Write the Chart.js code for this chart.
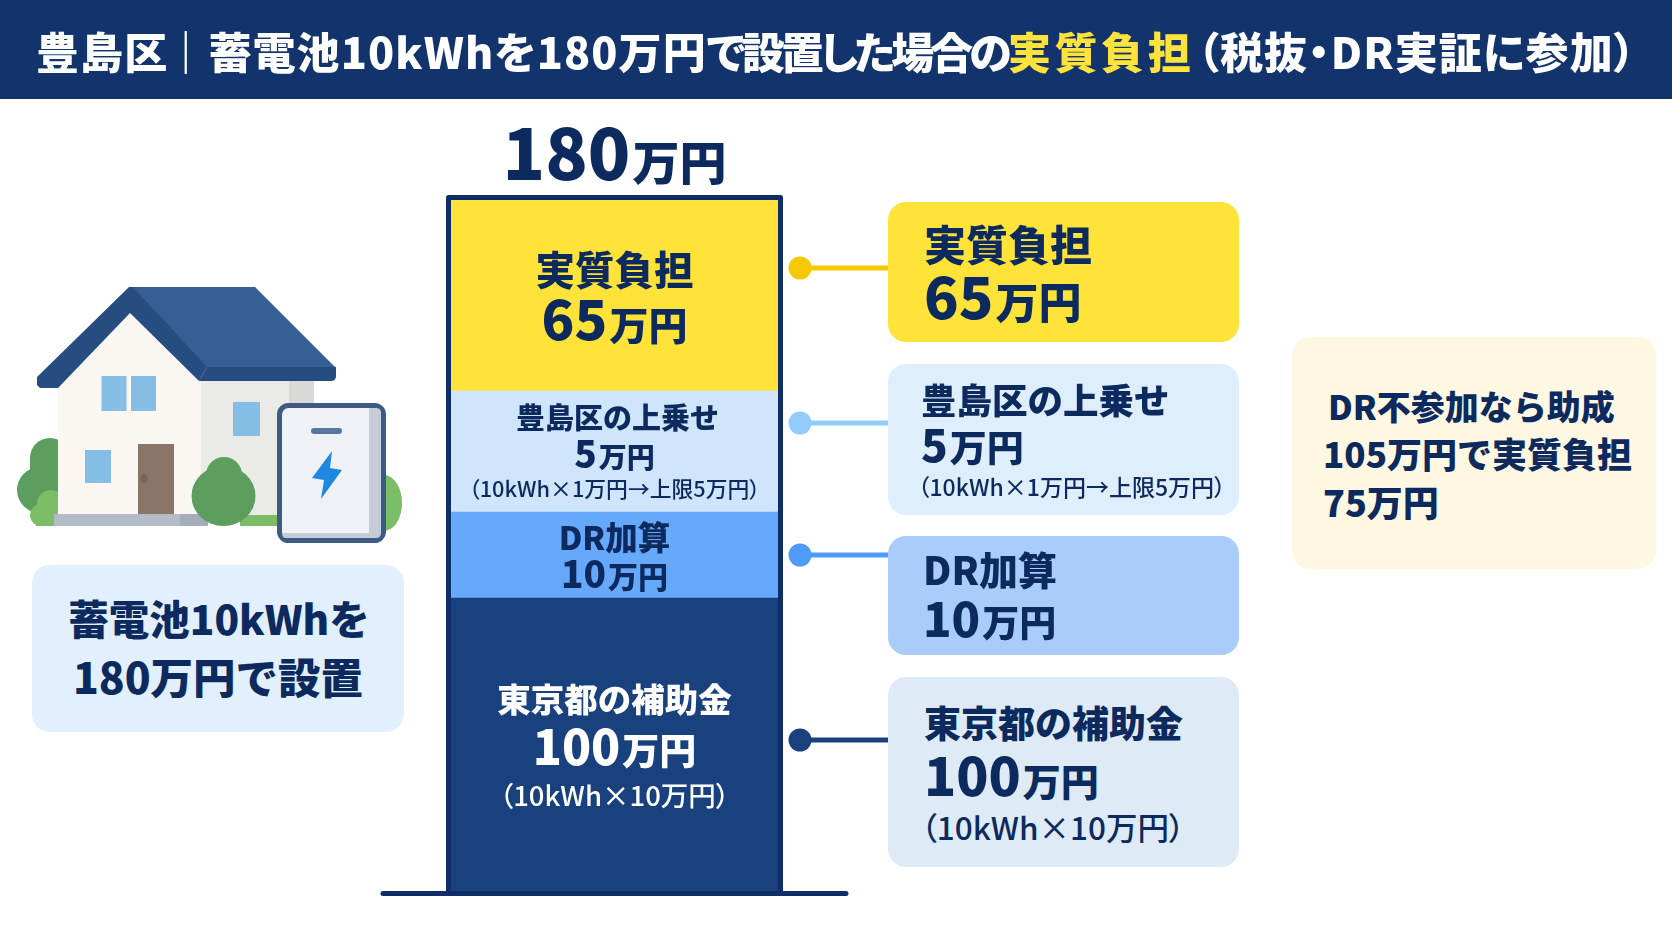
<!DOCTYPE html>
<html lang="ja">
<head>
<meta charset="utf-8">
<title>豊島区 蓄電池 実質負担</title>
<script src="https://cdn.jsdelivr.net/npm/chart.js@4"></script>
<style>
  html, body { margin: 0; padding: 0; background: #fff; }
  body { width: 1672px; height: 941px; position: relative; overflow: hidden;
         font-family: "Noto Sans CJK JP", "Noto Sans", sans-serif; font-weight: 900; color: #0d2a5e; }
  #myChart, #art { position: absolute; left: 0; top: 0; }
  #header { position: absolute; left: 0; top: 0; width: 1672px; height: 99px; background: #12336b; }
  .card { position: absolute; border-radius: 18px; }
  .t { position: absolute; white-space: nowrap; line-height: 1; transform: translateY(-50%); }
  .c { transform: translate(-50%, -50%); }
  .note { font-weight: 500; font-feature-settings: "palt"; }
  #title { left: 36px; top: 50px; font-size: 43px; color: #fff; font-feature-settings: "palt"; letter-spacing: 1.1px; }
  #title b { color: #ffe33b; font-weight: 900; letter-spacing: 3.6px; margin-right: 3px; }
  #title i { font-style: normal; letter-spacing: -3.9px; }
</style>
</head>
<body>
<div id="header"></div>
<svg id="art" width="1672" height="941" viewBox="0 0 1672 941"></svg>
<canvas id="myChart" width="1672" height="941"></canvas>
<div class="t" id="title">豊島区<span style="margin-left:-4px">｜</span>蓄電池10kWhを180万円<i>で設置した場合の</i><b>実質負担</b>（税抜・DR実証に参加）</div>
<script>
// stacked from the bottom, man-yen
const categories = ["東京都の補助金", "DR加算", "豊島区の上乗せ", "実質負担"]
const values = [100, 10, 5, 65]
const notes = ["（10kWh×10万円）", "", "（10kWh×1万円→上限5万円）", ""]
const total = 180
const unit = "万円"

// the reference does not draw the segments to proportion, so the axis
// keeps the real yen values and gives each one the height it has in the picture
const segmentHeights = [293, 86, 121, 191]

const barColors = ["#18417e", "#66a9fa", "#cfe5fc", "#ffe338"]
const dotColors = ["#18417e", "#4e9bfa", "#93cbfe", "#f5c800"]
const dotY = [740, 555, 423, 268]
const cardColors = ["#dfeaf7", "#a9ccfb", "#dfeefd", "#ffe338"]
const cardBoxes = [[677, 190], [536, 119], [364, 151], [202, 140]]

class SegmentedScale extends Chart.LinearScale {
    getPixelForValue(value) {
        const sum = segmentHeights.reduce((a, b) => a + b, 0)
        let from = 0, acc = 0
        for (let i = 0; i < values.length; i++) {
            if (value <= from + values[i]) {
                acc += segmentHeights[i] * (value - from) / values[i]
                break
            }
            acc += segmentHeights[i]
            from += values[i]
        }
        return this.bottom - acc / sum * (this.bottom - this.top)
    }
}
SegmentedScale.id = 'segmented'
SegmentedScale.defaults = Chart.LinearScale.defaults
Chart.register(SegmentedScale)

const barFrame = {
    id: 'barFrame',
    afterDatasetsDraw(chart) {
        const { ctx, chartArea: a } = chart
        ctx.save()
        ctx.strokeStyle = '#0f2d66'
        ctx.lineWidth = 5
        ctx.lineJoin = 'round'
        ctx.beginPath()
        ctx.moveTo(a.left - 2.5, a.bottom)
        ctx.lineTo(a.left - 2.5, a.top - 2.5)
        ctx.lineTo(a.right + 2.5, a.top - 2.5)
        ctx.lineTo(a.right + 2.5, a.bottom)
        ctx.stroke()
        ctx.lineCap = 'round'
        ctx.beginPath()
        ctx.moveTo(383, a.bottom + 2.5)
        ctx.lineTo(846, a.bottom + 2.5)
        ctx.stroke()
        ctx.restore()
    }
}

const myChart = new Chart(document.getElementById('myChart'), {
    type: 'bar',
    data: {
        labels: ["180万円"],
        datasets: categories.map((name, i) => ({
            label: name,
            data: [values[i]],
            backgroundColor: barColors[i],
            borderWidth: 0,
            barPercentage: 1,
            categoryPercentage: 1
        }))
    },
    options: {
        responsive: false,
        animation: false,
        layout: { padding: { left: 451, right: 894, top: 200, bottom: 50 } },
        plugins: { legend: { display: false }, tooltip: { enabled: false } },
        scales: {
            x: { stacked: true, display: false },
            y: { type: 'segmented', stacked: true, display: false, min: 0, max: total }
        }
    },
    plugins: [barFrame]
})

function addText(x, y, html, size, color, centered, cls) {
    const el = document.createElement('div')
    el.className = 't' + (centered ? ' c' : '') + (cls ? ' ' + cls : '')
    el.style.left = x + 'px'
    el.style.top = y + 'px'
    el.style.fontSize = size + 'px'
    if (color) el.style.color = color
    el.innerHTML = html
    document.body.appendChild(el)
}
function money(v, numSize, unitSize) {
    return `<span style="font-size:${numSize}px">${v}</span><span style="font-size:${unitSize}px;margin-left:2px">${unit}</span>`
}
function addCard(x, y, w, h, color) {
    const el = document.createElement('div')
    el.className = 'card'
    el.style.cssText = `left:${x}px;top:${y}px;width:${w}px;height:${h}px;background:${color}`
    document.body.appendChild(el)
}

// labels inside the bar
const barX = 614.5
const barText = [
    { name: [698, 33.5], val: [744, 48, 37], note: [795, 27.5], color: '#ffffff' },
    { name: [536, 32.5], val: [572, 37, 30] },
    { name: [416, 29, 3], val: [452, 37, 28], note: [488, 21.8] },
    { name: [268, 39.5], val: [317, 54, 39] }
]
addText(barX, 150, money(total, 70, 47), 47, null, true)
barText.forEach((b, i) => {
    addText(barX + (b.name[2] || 0), b.name[0], categories[i], b.name[1], b.color, true)
    addText(barX, b.val[0], money(values[i], b.val[1], b.val[2]), b.val[2], b.color, true)
    if (b.note) addText(barX, b.note[0], notes[i], b.note[1], b.color, true, 'note')
})

// callout cards on the right
const cardText = [
    { x: 924, name: [722, 37], val: [773, 53, 38], note: [827, 31.5] },
    { x: 923, name: [568, 39], val: [616, 47, 37] },
    { x: 921, name: [399, 35.5], val: [443, 44, 37], note: [486, 23] },
    { x: 924, name: [243, 42], val: [294, 57, 43] }
]
cardBoxes.forEach((b, i) => {
    addCard(888, b[0], 351, b[1], cardColors[i])
    const c = cardText[i]
    addText(c.x, c.name[0], categories[i], c.name[1])
    addText(c.x, c.val[0], money(values[i], c.val[1], c.val[2]), c.val[2])
    if (c.note) addText(c.x - 3, c.note[0], notes[i], c.note[1], null, false, 'note')
})

// left caption and side note
addCard(32, 565, 372, 167, '#e2effc')
addText(219, 618, "蓄電池10kWhを", 40.5, null, true)
addText(218, 676, "180万円で設置", 42.5, null, true)
addCard(1292, 337, 364, 232, '#fef8e3')
addText(1328, 406, "DR不参加なら助成", 34)
addText(1323, 452, "105万円で実質負担", 35)
addText(1323, 501, "75万円", 36)

// connectors and the house illustration
const connectors = dotY.map((y, i) =>
    `<line x1="800" y1="${y}" x2="888" y2="${y}" stroke="${dotColors[i]}" stroke-width="5"/>` +
    `<circle cx="800" cy="${y}" r="11.5" fill="${dotColors[i]}"/>`).join('')

document.getElementById('art').innerHTML = connectors + `
  <g fill="#5b9e5e">
    <circle cx="50" cy="458" r="20"/><rect x="30" y="458" width="40" height="30"/>
    <circle cx="40" cy="490" r="23"/>
  </g>
  <g fill="#7bbd66">
    <circle cx="41" cy="515" r="11"/><circle cx="51" cy="504" r="14"/><rect x="36" y="510" width="35" height="16"/>
    <ellipse cx="384" cy="503" rx="18" ry="28"/><rect x="366" y="505" width="30" height="21" rx="4"/>
    <path d="M240 526 V500 L262 498 L276 494 L290 500 V526 Z"/>
  </g>
  <rect x="201" y="381" width="113" height="134" fill="#eaeae7"/>
  <rect x="289" y="381" width="25" height="50" fill="#d9d9d7"/>
  <polygon points="58,384 130,313 201,381 201,515 58,515" fill="#faf7f2"/>
  <polygon points="130,287 255,287 336,368 207,368" fill="#365f96"/>
  <path d="M207 367 H336 V376 Q336 381 331 381 H199 Z" fill="#274c80"/>
  <polygon points="129,287 133,287 207,367 199,381 130,313 58,388 40,388 37,385 37,377" fill="#274c80"/>
  <g fill="#85bde5">
    <rect x="101.5" y="376" width="25" height="35"/><rect x="131" y="376" width="25" height="35"/>
    <rect x="233" y="402" width="27" height="34"/><rect x="85" y="450" width="26" height="33"/>
  </g>
  <rect x="138" y="444" width="36" height="71" fill="#8b7568"/>
  <ellipse cx="144" cy="479" rx="3.5" ry="5" fill="#77655a"/>
  <rect x="54" y="514" width="126" height="12" fill="#b4bbc8"/>
  <rect x="180" y="514" width="28" height="12" fill="#a5acba"/>
  <g fill="#5b9e5e">
    <circle cx="224" cy="475" r="18"/><ellipse cx="223.5" cy="496" rx="32" ry="30"/>
  </g>
  <rect x="279.5" y="405.5" width="104" height="135" rx="9" fill="#eef1f5" stroke="#3c5a82" stroke-width="5"/>
  <path d="M369 408 H376 Q381 408 381 413 V533 Q381 538 376 538 H286 Q282 538 282 533 H369 Z" fill="#c5ccd8"/>
  <rect x="311" y="428" width="31" height="6" rx="3" fill="#56789f"/>
  <polygon points="332,451 312,478 324,480 321,499 342,470 330,468" fill="#1e88e0"/>`
</script>
</body>
</html>
